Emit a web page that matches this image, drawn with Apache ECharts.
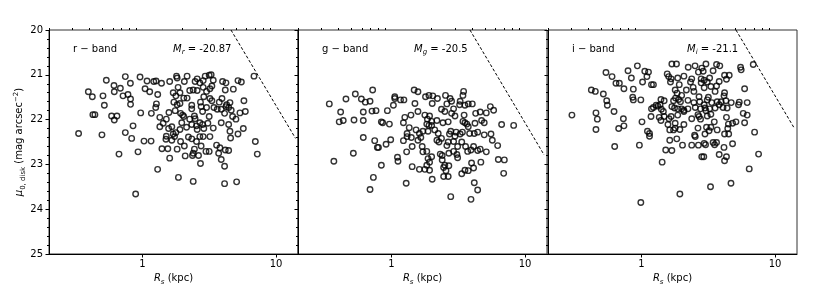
<!DOCTYPE html>
<html><head><meta charset="utf-8">
<script src="https://cdn.jsdelivr.net/npm/echarts@6/dist/echarts.min.js"></script>
<style>html,body{margin:0;padding:0;background:#fff}#c{width:830px;height:300px}</style>
</head><body><div id="c"></div>
<script>
// ---- data: [R_s (kpc), mu_0,disk (mag arcsec^-2)] ----
const rBandPoints = [
[0.333,22.31],[0.394,21.38],[0.422,21.49],[0.426,21.89],[0.441,21.89],[0.498,22.34],[0.507,21.47],[0.519,21.68],[0.537,21.12],[0.588,21.92],[0.613,21.24],[0.616,21.38],[0.616,22.01],[0.645,21.92],[0.668,22.77],[0.684,21.30],[0.716,21.47],[0.745,21.04],[0.745,22.29],[0.780,21.44],[0.813,21.19],[0.815,21.54],[0.815,21.66],[0.831,22.42],[0.851,22.14],[0.927,22.72],[0.960,21.05],[0.971,21.85],[1.028,22.48],[1.047,21.31],[1.083,21.14],[1.134,21.38],[1.161,22.48],[1.167,21.86],[1.216,21.15],[1.265,21.14],[1.273,21.65],[1.302,21.44],[1.258,21.73],[0.89,23.66],
[1.39,21.19],[1.60,21.15],[1.80,21.03],[1.82,21.07],[1.85,21.28],[2.06,21.15],[2.16,21.03],[2.48,21.15],[2.57,21.09],[2.69,21.18],[2.85,21.13],[2.95,21.03],[3.16,21.01],[3.27,21.00],[3.39,21.12],[3.98,21.15],[4.22,21.18],[5.19,21.13],[5.50,21.16],[6.84,21.03],
[1.70,21.40],[1.78,21.47],[1.91,21.40],[2.04,21.52],[2.26,21.35],[2.40,21.34],[2.57,21.35],[2.85,21.28],[3.02,21.37],[3.20,21.31],[3.31,21.25],[4.17,21.34],[4.79,21.32],[3.20,21.53],
[1.72,21.61],[1.82,21.67],[1.91,21.64],[2.16,21.52],[2.34,21.68],[2.72,21.61],[2.88,21.49],[3.31,21.58],[3.76,21.61],[3.94,21.53],[4.27,21.67],[4.52,21.62],[5.75,21.58],
[1.58,21.84],[1.76,21.80],[1.93,21.86],[2.00,21.90],[2.04,21.93],[2.34,21.76],[2.45,21.92],[2.48,21.98],[2.75,21.71],[2.82,21.82],[3.02,21.73],[3.16,21.93],[3.43,21.73],[3.63,21.77],[3.89,21.77],[4.12,21.86],[4.22,21.71],[4.42,21.73],[4.62,21.79],[4.73,21.93],[5.01,21.99],[5.37,21.85],[5.89,21.82],[1.35,21.95],[1.51,21.99],[2.26,21.99],
[1.35,22.16],[1.43,22.08],[1.57,22.20],[1.66,22.16],[1.70,22.32],[1.78,22.29],[1.91,22.22],[1.97,22.07],[2.14,22.17],[2.34,22.11],[2.54,22.14],[2.57,22.22],[2.69,22.07],[2.82,22.11],[2.88,22.20],[3.09,22.08],[3.39,22.19],[3.89,22.07],[4.42,22.11],[4.52,22.26],[5.19,22.32],[5.69,22.20],[1.51,22.37],
[1.50,22.44],[1.66,22.46],[1.74,22.38],[1.93,22.49],[2.06,22.59],[2.21,22.39],[2.34,22.43],[2.54,22.49],[2.69,22.38],[2.75,22.59],[2.85,22.38],[3.20,22.38],[3.59,22.57],[4.57,22.41],[1.40,22.65],[1.55,22.65],[1.82,22.66],[2.45,22.66],[2.99,22.71],[3.16,22.71],[3.80,22.63],[4.17,22.68],[4.42,22.69],[7.00,22.49],[7.24,22.77],
[2.40,22.75],[2.09,22.81],[2.37,22.80],[2.63,22.80],[3.72,22.75],[3.89,22.89],[2.72,22.98],[1.60,22.86],[4.12,23.04],[1.30,23.11],[1.86,23.29],[2.40,23.38],[4.12,23.43],[5.07,23.39]
];
const gBandPoints = [
[0.343,21.65],[0.371,22.93],[0.417,21.83],[0.407,22.05],[0.436,22.02],[0.457,21.54],[0.519,22.75],[0.525,22.01],[0.537,21.43],[0.596,21.54],[0.616,21.83],[0.616,22.02],[0.616,22.40],[0.638,21.61],[0.692,21.59],[0.692,23.56],[0.716,21.81],[0.724,21.34],[0.733,23.29],[0.750,22.47],[0.767,21.80],[0.785,22.62],[0.80,22.62],[0.841,23.02],[0.841,22.05],[0.86,22.07],[0.912,22.55],[0.933,21.80],[0.966,22.10],[0.988,22.45],[1.035,21.68],[1.06,21.53],[1.06,21.49],[1.11,22.84],[1.12,22.93],[1.17,21.56],[1.24,21.56],[1.23,22.07],[1.23,22.47],[1.26,21.95],[1.30,22.72],[1.31,22.38],[1.29,23.42],[1.31,22.31],[1.36,22.18],[1.40,21.90],[1.41,22.40],[1.43,23.05],[1.43,22.60],[1.48,21.34],
[1.58,21.38],[1.80,21.49],[1.91,21.46],[2.04,21.47],[2.02,21.64],[2.21,21.53],[2.54,21.46],[2.60,21.65],[2.75,21.53],[2.82,21.59],[3.27,21.59],[3.47,21.37],[3.43,21.46],[3.24,21.67],[3.55,21.68],[3.76,21.65],[4.03,21.65],[1.50,21.64],
[1.58,21.82],[2.37,21.77],[2.51,21.82],[2.82,21.86],[2.99,21.92],[2.92,21.76],[4.27,21.86],[4.62,21.83],[5.13,21.85],[5.50,21.71],[5.82,21.79],[1.78,21.90],[1.93,21.92],[1.86,21.99],[2.00,22.04],[2.19,22.02],[1.84,22.10],[1.91,22.13],[2.0,22.13],[2.43,22.07],[2.66,22.05],[3.43,22.04],[3.55,22.07],[3.67,22.10],[4.22,22.08],[4.73,22.02],[4.95,22.07],[6.68,22.11],[8.22,22.13],[3.5,21.90],[3.76,22.16],
[1.53,22.23],[1.62,22.31],[1.72,22.26],[1.88,22.26],[2.11,22.23],[2.24,22.31],[2.72,22.32],[2.78,22.26],[2.99,22.37],[3.05,22.28],[3.27,22.32],[3.40,22.28],[3.85,22.31],[4.17,22.31],[4.42,22.28],[4.95,22.34],[5.56,22.32],[5.69,22.46],[1.58,22.46],[1.70,22.60],[1.66,22.40],[2.19,22.46],[2.27,22.50],[2.37,22.42],[2.60,22.58],[2.66,22.50],[2.92,22.49],[3.13,22.60],[3.36,22.50],[3.59,22.60],[3.72,22.71],[3.94,22.68],[4.12,22.60],[4.42,22.69],[4.62,22.66],[5.13,22.72],[6.24,22.58],[1.72,22.72],[1.84,22.71],[2.32,22.77],[2.40,22.80],[2.69,22.75],[2.92,22.71],[3.09,22.78],
[1.88,22.87],[2.0,22.83],[1.93,22.95],[1.84,23.02],[2.40,22.90],[2.51,23.02],[2.69,23.03],[3.13,22.85],[3.98,22.97],[4.67,22.95],[6.31,22.89],[7.0,22.90],[1.62,23.11],[1.78,23.11],[1.93,23.13],[2.46,23.07],[2.56,23.14],[3.55,23.13],[3.36,23.21],[3.76,23.14],[4.12,23.08],[6.92,23.20],[2.46,23.27],[2.66,23.27],[2.02,23.33],[4.17,23.41],[4.42,23.57],[2.78,23.72],[3.94,23.78]
];
const iBandPoints = [
[0.302,21.90],[0.422,21.34],[0.452,21.37],[0.457,21.85],[0.468,21.99],[0.457,22.22],[0.519,21.43],[0.550,21.58],[0.556,21.68],[0.543,20.95],[0.603,21.04],[0.624,21.82],[0.631,22.60],[0.645,21.19],[0.684,21.19],[0.676,22.20],[0.733,21.98],[0.74,22.14],[0.74,21.31],[0.794,20.91],[0.841,21.07],[0.861,21.50],[0.87,21.32],[0.87,21.56],[0.933,20.80],[0.966,22.57],[0.99,21.56],[0.99,23.85],[1.01,22.05],[1.02,21.16],[1.06,20.92],[1.10,21.04],[1.11,22.26],[1.15,22.37],[1.13,20.94],[1.15,22.31],[1.19,21.22],[1.23,21.22],[1.18,21.93],[1.19,21.76],[1.23,21.73],[1.29,21.68],[1.33,21.70],[1.40,21.55],[1.38,21.67],[1.41,21.77],[1.36,21.95],[1.40,22.02],[1.46,21.82],[1.43,22.95],[1.48,21.58],[1.48,21.93],
[1.69,20.76],[1.83,20.76],[2.24,20.83],[2.52,20.80],[2.83,20.85],[3.04,20.76],[3.65,20.77],[3.86,20.80],[5.52,20.83],[5.58,20.89],[6.87,20.77],[2.67,20.94],[2.9,20.92],[3.44,20.91],[4.19,21.01],[4.54,21.01],[4.33,21.10],[1.56,20.98],[1.60,21.04],[1.67,21.09],[1.65,21.16],[1.87,21.07],[1.92,21.22],[2.08,21.03],[2.38,21.09],[2.33,21.16],[2.80,21.09],[2.95,21.12],[3.11,21.16],[3.24,21.07],[3.31,21.26],[3.65,21.25],[3.82,21.15],[2.80,21.18],[2.95,21.29],[2.44,21.28],[5.92,21.31],
[1.79,21.34],[1.85,21.41],[2.0,21.46],[2.17,21.34],[2.47,21.37],[2.70,21.49],[3.17,21.50],[3.56,21.37],[4.19,21.40],[4.15,21.47],[1.80,21.52],[1.74,21.58],[1.90,21.55],[1.96,21.60],[2.23,21.57],[2.47,21.62],[2.73,21.60],[2.95,21.67],[3.11,21.56],[3.36,21.62],[3.69,21.60],[3.95,21.60],[4.29,21.58],[4.70,21.62],[5.40,21.61],[6.19,21.62],[1.69,21.71],[1.77,21.74],[1.87,21.76],[2.0,21.76],[2.08,21.79],[2.23,21.76],[2.53,21.73],[2.77,21.76],[2.99,21.74],[3.24,21.76],[3.56,21.74],[3.82,21.67],[4.08,21.73],[4.38,21.74],[5.33,21.67],[5.78,21.86],[6.19,21.90],
[1.61,21.98],[1.67,21.93],[1.87,21.90],[2.08,21.82],[2.38,21.98],[2.65,21.89],[2.70,21.93],[2.77,21.99],[3.04,21.80],[3.31,21.88],[3.11,21.92],[3.51,22.05],[4.33,21.95],[4.81,22.08],[5.10,22.05],[5.92,22.07],[4.48,22.10],[4.43,22.20],[1.58,22.11],[1.79,22.08],[1.79,22.19],[1.63,22.23],[1.74,22.23],[1.94,22.22],[2.08,22.11],[2.65,22.19],[3.07,22.17],[3.21,22.25],[3.31,22.17],[3.69,22.23],[2.53,22.38],[2.50,22.35],[2.99,22.32],[4.19,22.32],[4.5,22.32],[7.03,22.28],[1.63,22.46],[1.84,22.43],[2.03,22.57],[2.38,22.57],[2.67,22.57],[2.95,22.53],[3.02,22.56],[3.44,22.51],[3.53,22.56],[3.65,22.51],[4.15,22.62],[4.81,22.54],[1.52,22.68],[1.69,22.69],[2.83,22.83],[2.93,22.83],[3.82,22.78],[4.33,22.83],[4.19,22.92],[7.53,22.77],[6.41,23.10],[4.68,23.42],[3.29,23.50],[1.94,23.66]
];
// dashed limit lines (endpoints)
const rLimitLine = [[4.6,20],[14.0,22.42]];
const gLimitLine = [[3.87,20],[13.9,22.79]];
const iLimitLine = [[5.1,20],[13.8,22.17]];
// panel texts
const bandLabels = ['r \u2212 band','g \u2212 band','i \u2212 band'];
const magBands = ['r','g','i'];
const magValues = ['-20.87','-20.5','-21.1'];
// axes
const xMajorTicks = [1, 10];
const xMinorTicks = [0.2,0.3,0.4,0.5,0.6,0.7,0.8,0.9,2,3,4,5,6,7,8,9];
const xMin = 0.2, xMax = 14.6;
const yMin = 20, yMax = 25, yStep = 1;

const FONT = 'DejaVu Sans';
const panels = [rBandPoints, gBandPoints, iBandPoints];
const lines = [rLimitLine, gLimitLine, iLimitLine];
const gridLefts = [49, 298, 548];
const gridW = 249, gridTop = 30, gridH = 224;
const axisColor = '#000';

const chart = echarts.init(document.getElementById('c'), null, {renderer:'canvas'});
const grids = [], xAxes = [], yAxes = [], series = [], graphics = [];
const subRich = {
  it: {fontFamily: FONT, fontSize: 10, fontStyle: 'italic', color: '#000', lineHeight: 14},
  sub: {fontFamily: FONT, fontSize: 7, fontStyle: 'italic', color: '#000', verticalAlign: 'bottom', lineHeight: 9},
  subn: {fontFamily: FONT, fontSize: 7, color: '#000', verticalAlign: 'bottom', lineHeight: 9},
  sup: {fontFamily: FONT, fontSize: 7, color: '#000', verticalAlign: 'top', lineHeight: 9},
  n: {fontFamily: FONT, fontSize: 10, color: '#000', lineHeight: 14}
};
for (let i = 0; i < 3; i++) {
  grids.push({left: gridLefts[i], top: gridTop, width: gridW, height: gridH, show: true,
    borderColor: '#333', borderWidth: 1, backgroundColor: 'transparent', containLabel: false});
  xAxes.push({
    gridIndex: i, type: 'log', logBase: 10, min: xMin, max: xMax,
    axisLine: {show: true, lineStyle: {color: axisColor, width: 1}},
    axisTick: {show: true, inside: false, length: 3.5, customValues: xMajorTicks, lineStyle: {color: axisColor}},
    axisLabel: {show: true, customValues: xMajorTicks, fontFamily: FONT, fontSize: 10, color: '#000', margin: 5,
      formatter: v => String(Math.round(v))},
    splitLine: {show: false}, minorTick: {show: false},
    name: '{it|R}{sub|s}{n| (kpc)}', nameLocation: 'middle', nameGap: 15,
    nameTextStyle: {rich: subRich}
  });
  yAxes.push({
    gridIndex: i, type: 'value', min: yMin, max: yMax, interval: yStep, inverse: true,
    axisLine: {show: true, lineStyle: {color: axisColor, width: 1}},
    axisTick: {show: true, inside: false, length: 3.5, lineStyle: {color: axisColor}},
    minorTick: {show: true, splitNumber: 5, length: 2, lineStyle: {color: axisColor}},
    axisLabel: {show: i === 0, fontFamily: FONT, fontSize: 10, color: '#000', margin: 6},
    splitLine: {show: false}, minorSplitLine: {show: false},
    name: i === 0 ? '{it|\u03bc}{subn|0, disk}{n| (mag arcsec}{sup|\u22122}{n|)}' : '',
    nameLocation: 'middle', nameRotate: 90, nameGap: 21,
    nameTextStyle: {rich: subRich}
  });
  series.push({
    type: 'scatter', xAxisIndex: i, yAxisIndex: i, data: panels[i],
    symbol: 'circle', symbolSize: 5.5, silent: true,
    itemStyle: {color: 'rgba(255,255,255,0)', borderColor: '#000', borderWidth: 1.4},
    emphasis: {disabled: true}
  });
  series.push({
    type: 'line', xAxisIndex: i, yAxisIndex: i, data: lines[i], symbol: 'none', silent: true,
    lineStyle: {color: '#000', width: 1, type: [3, 2]}, clip: true
  });
  graphics.push({type: 'text', x: gridLefts[i] + 24, y: 49,
    style: {text: bandLabels[i], fontFamily: FONT, fontSize: 10, fill: '#000', verticalAlign: 'middle'}});
}
// minor x ticks: extra axes sharing each grid
for (let i = 0; i < 3; i++) {
  xAxes.push({
    gridIndex: i, type: 'log', logBase: 10, min: xMin, max: xMax,
    axisLine: {show: false},
    axisTick: {show: true, inside: false, length: 2, customValues: xMinorTicks, lineStyle: {color: axisColor}},
    axisLabel: {show: false}, splitLine: {show: false}
  });
}
const magX = [173, 414, 687];
for (let i = 0; i < 3; i++) {
  graphics.push({type: 'text', x: magX[i], y: 49,
    style: {text: '{it|M}{sub|' + magBands[i] + '}{n| = ' + magValues[i] + '}', rich: subRich, verticalAlign: 'middle'}});
}
chart.setOption({
  animation: false,
  grid: grids, xAxis: xAxes, yAxis: yAxes, series: series, graphic: graphics
});
</script></body></html>
